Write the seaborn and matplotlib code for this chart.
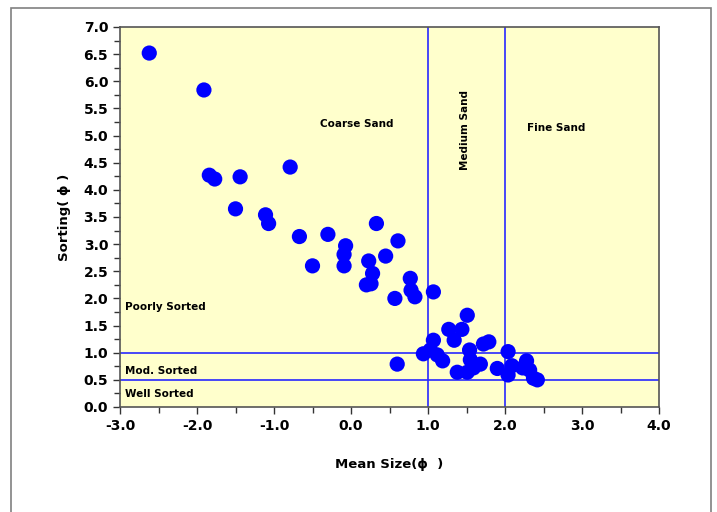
import numpy as np
import pandas as pd
import matplotlib
matplotlib.use("Agg")
import matplotlib.pyplot as plt
from matplotlib.patches import Rectangle
from matplotlib.ticker import MultipleLocator, FormatStrFormatter
import seaborn as sns

# mean grain size (phi) and sorting (phi) for each sample
mean_size = [-2.62, -1.91, -1.84, -1.77, -1.44, -1.50, -0.79, -1.11, -1.07,
             -0.67, -0.30, -0.50, -0.07, -0.09, -0.09, 0.33, 0.23, 0.28,
             0.26, 0.20, 0.45, 0.61, 0.57, 0.77, 0.78, 0.83, 1.07, 0.60,
             1.51, 1.27, 1.44, 1.34, 1.07, 1.72, 1.79, 1.54, 0.94, 1.03,
             1.12, 1.19, 1.55, 1.68, 1.38, 1.51, 1.59, 2.04, 1.90, 2.09,
             2.04, 2.28, 2.32, 2.37, 2.42, 2.23]
sorting = [6.52, 5.84, 4.27, 4.20, 4.24, 3.65, 4.42, 3.54, 3.38,
           3.14, 3.18, 2.60, 2.97, 2.81, 2.60, 3.38, 2.69, 2.46,
           2.27, 2.25, 2.78, 3.06, 2.00, 2.37, 2.15, 2.03, 2.12, 0.79,
           1.69, 1.43, 1.43, 1.23, 1.23, 1.16, 1.20, 1.05, 0.98, 1.05,
           0.96, 0.85, 0.87, 0.79, 0.64, 0.64, 0.72, 1.02, 0.71, 0.76,
           0.59, 0.85, 0.68, 0.53, 0.50, 0.72]

size_bounds = [1.0, 2.0]      # coarse / medium / fine sand
sort_bounds = [0.5, 1.0]      # well / moderately / poorly sorted

size_classes = ["Coarse Sand", "Medium Sand", "Fine Sand"]
sort_classes = ["Poorly Sorted", "Mod. Sorted", "Well Sorted"]


def main():
    df = pd.DataFrame({"mean": mean_size, "sorting": sorting})

    fig = plt.figure(figsize=(7.17, 5.12), dpi=100)
    fig.patches.append(Rectangle((11 / 717, -0.05), 700 / 717, 1.05 - 8 / 512,
                                 transform=fig.transFigure, fill=False,
                                 edgecolor="#808080", linewidth=1.2))
    ax = fig.add_axes([120 / 717, 1 - 407 / 512, 539 / 717, 380 / 512])
    ax.set_facecolor("#FFFFCC")

    line_kw = dict(color="#2828ff", linewidth=1.2, zorder=1)
    for xb in size_bounds:
        ax.axvline(xb, **line_kw)
    for yb in sort_bounds:
        ax.axhline(yb, **line_kw)

    sns.scatterplot(data=df, x="mean", y="sorting", ax=ax, color="#0000FF",
                    s=120, edgecolor="none", zorder=3, legend=False)

    ax.set_xlim(-3.0, 4.0)
    ax.set_ylim(0.0, 7.0)
    ax.xaxis.set_major_locator(MultipleLocator(1.0))
    ax.xaxis.set_minor_locator(MultipleLocator(0.5))
    ax.yaxis.set_major_locator(MultipleLocator(0.5))
    ax.yaxis.set_minor_locator(MultipleLocator(0.25))
    ax.xaxis.set_major_formatter(FormatStrFormatter("%.1f"))
    ax.yaxis.set_major_formatter(FormatStrFormatter("%.1f"))
    ax.tick_params(which="both", direction="out", color="#333333", width=1)
    ax.tick_params(which="major", length=5, labelsize=10)
    ax.tick_params(which="minor", length=4)
    for lab in ax.get_xticklabels() + ax.get_yticklabels():
        lab.set_fontweight("bold")
    for sp in ax.spines.values():
        sp.set_color("#555555")
        sp.set_linewidth(1.2)

    ax.set_xlabel("Mean Size(ϕ  )", fontsize=9.5, fontweight="bold", labelpad=18)
    ax.set_ylabel("Sorting( ϕ )", fontsize=9.5, fontweight="bold", labelpad=9)

    tkw = dict(fontsize=7.5, fontweight="bold", color="black")
    ax.text(0.08, 5.21, size_classes[0], ha="center", va="center", **tkw)
    ax.text(1.48, 5.1, size_classes[1], ha="center", va="center",
            rotation=90, **tkw)
    ax.text(2.66, 5.14, size_classes[2], ha="center", va="center", **tkw)
    ax.text(-2.93, 1.84, sort_classes[0], ha="left", va="center", **tkw)
    ax.text(-2.93, 0.67, sort_classes[1], ha="left", va="center", **tkw)
    ax.text(-2.93, 0.24, sort_classes[2], ha="left", va="center", **tkw)

    fig.savefig("out.png", dpi=100)


if __name__ == "__main__":
    main()
